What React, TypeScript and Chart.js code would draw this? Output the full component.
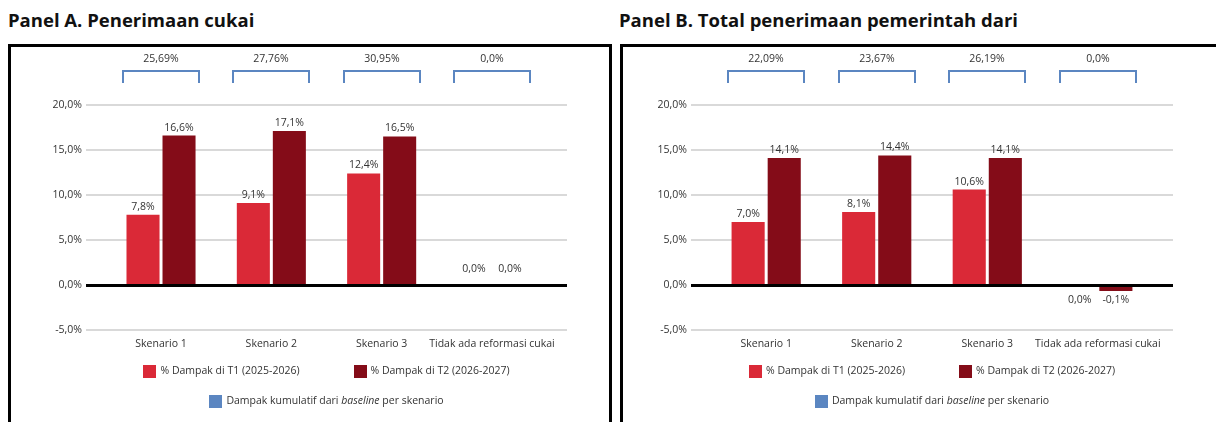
import React, { useEffect, useRef } from 'react';
import { Chart, registerables } from 'chart.js';

Chart.register(...registerables);

// ---------- data ----------
const categories = ['Skenario 1', 'Skenario 2', 'Skenario 3', 'Tidak ada reformasi cukai'];
const yTickValues = [-5, 0, 5, 10, 15, 20];
const seriesNames = ['% Dampak di T1 (2025-2026)', '% Dampak di T2 (2026-2027)'];
const cumulativeLegendParts: [string, boolean][] = [
  ['Dampak kumulatif dari ', false],
  ['baseline', true],
  [' per skenario', false],
];

const panelATitle = 'Panel A. Penerimaan cukai';
const panelAT1 = [7.8, 9.1, 12.4, 0.0];
const panelAT2 = [16.6, 17.1, 16.5, 0.0];
const panelACumulative = [25.69, 27.76, 30.95, 0.0];

const panelBTitle = 'Panel B. Total penerimaan pemerintah dari';
const panelBT1 = [7.0, 8.1, 10.6, 0.0];
const panelBT2 = [14.1, 14.4, 14.1, -0.1];
const panelBCumulative = [22.09, 23.67, 26.19, 0.0];

// ---------- styles ----------
const FONT = "'Open Sans', 'DejaVu Sans', sans-serif";
const COLOR_T1 = '#da2937';
const COLOR_T2 = '#840c18';
const COLOR_CUM = '#5b86c1';
const TEXT = '#333333';
const FS = 10.5;

const fmt1 = (v: number) => v.toFixed(1).replace('.', ',') + '%';
const fmtCum = (v: number) => (v === 0 ? v.toFixed(1) : v.toFixed(2)).replace('.', ',') + '%';

type PanelProps = {
  left: number;
  top: number;
  width: number;
  height: number;
  yAxisWidth: number;
  rightPad: number;
  t1: number[];
  t2: number[];
  cum: number[];
  t2MinBar: number;
};

function PanelChart(p: PanelProps) {
  const ref = useRef<HTMLCanvasElement | null>(null);

  useEffect(() => {
    if (!ref.current) return;
    const overlay = {
      id: 'overlay',
      afterDatasetsDraw(chart: any) {
        const { ctx, chartArea, scales } = chart;
        const x = scales.x;
        const y = scales.y;
        const y0 = y.getPixelForValue(0);
        ctx.save();
        // zero line on top of bars
        ctx.strokeStyle = '#000';
        ctx.lineWidth = 3;
        ctx.beginPath();
        ctx.moveTo(chartArea.left, Math.round(y0) + 0.5);
        ctx.lineTo(chartArea.right, Math.round(y0) + 0.5);
        ctx.stroke();

        // value labels
        ctx.font = `${FS}px ${FONT}`;
        ctx.fillStyle = TEXT;
        ctx.textAlign = 'center';
        ctx.textBaseline = 'middle';
        const series = [p.t1, p.t2];
        chart.data.datasets.forEach((ds: any, di: number) => {
          const meta = chart.getDatasetMeta(di);
          meta.data.forEach((bar: any, i: number) => {
            const v = series[di][i];
            const below = p.t1[i] < 0 || p.t2[i] < 0;
            let ty: number;
            if (below) ty = v === 0 ? y0 + 15 : bar.y + 9;
            else ty = v === 0 ? y0 - 16 : bar.y - 8;
            ctx.fillText(fmt1(v), bar.x, ty);
          });
        });

        // cumulative brackets
        const half = 38;
        p.cum.forEach((c, i) => {
          const cx = Math.round(x.getPixelForValue(i));
          ctx.strokeStyle = COLOR_CUM;
          ctx.lineWidth = 2;
          ctx.beginPath();
          ctx.moveTo(cx - half, 36);
          ctx.lineTo(cx - half, 24);
          ctx.lineTo(cx + half, 24);
          ctx.lineTo(cx + half, 36);
          ctx.stroke();
          ctx.fillStyle = TEXT;
          ctx.fillText(fmtCum(c), cx, 12);
        });

        // legend
        const cxArea = (chartArea.left + chartArea.right) / 2;
        const box = 13;
        const boxGap = 4;
        const row1Y = chartArea.bottom + 41;
        const row2Y = chartArea.bottom + 71;
        ctx.font = `${FS}px ${FONT}`;
        ctx.textAlign = 'left';
        const w0 = box + boxGap + ctx.measureText(seriesNames[0]).width;
        const w1 = box + boxGap + ctx.measureText(seriesNames[1]).width;
        const itemGap = 54;
        let lx = cxArea - (w0 + itemGap + w1) / 2;
        const cols = [COLOR_T1, COLOR_T2];
        [w0, w1].forEach((w, k) => {
          ctx.fillStyle = cols[k];
          ctx.fillRect(Math.round(lx), Math.round(row1Y - box / 2), box, box);
          ctx.fillStyle = TEXT;
          ctx.fillText(seriesNames[k], lx + box + boxGap, row1Y);
          lx += w + itemGap;
        });
        let total = box + boxGap;
        cumulativeLegendParts.forEach(([t, it]) => {
          ctx.font = `${it ? 'italic ' : ''}${FS}px ${FONT}`;
          total += ctx.measureText(t).width;
        });
        let rx = cxArea - total / 2;
        ctx.fillStyle = COLOR_CUM;
        ctx.fillRect(Math.round(rx), Math.round(row2Y - box / 2), box, box);
        rx += box + boxGap;
        ctx.fillStyle = TEXT;
        cumulativeLegendParts.forEach(([t, it]) => {
          ctx.font = `${it ? 'italic ' : ''}${FS}px ${FONT}`;
          ctx.fillText(t, rx, row2Y);
          rx += ctx.measureText(t).width;
        });
        ctx.restore();
      },
    };

    const chart = new Chart(ref.current, {
      type: 'bar',
      data: {
        datasets: [
          {
            label: seriesNames[0],
            data: p.t1.map((v, i) => ({ x: i, y: v })),
            backgroundColor: COLOR_T1,
            categoryPercentage: 0.653,
            barPercentage: 0.917,
          },
          {
            label: seriesNames[1],
            data: p.t2.map((v, i) => ({ x: i, y: v })),
            backgroundColor: COLOR_T2,
            categoryPercentage: 0.653,
            barPercentage: 0.917,
            minBarLength: p.t2MinBar,
          },
        ],
      } as any,
      options: {
        responsive: false,
        animation: false,
        events: [],
        layout: {
          padding: { top: 58, right: p.rightPad, bottom: p.height - 283 - 30, left: 0 },
        },
        plugins: {
          legend: { display: false },
          tooltip: { enabled: false },
        },
        scales: {
          x: {
            type: 'linear',
            offset: false,
            min: -0.68,
            max: 3.68,
            afterBuildTicks: (s: any) => {
              s.ticks = categories.map((_, i) => ({ value: i }));
            },
            afterFit: (s: any) => {
              s.height = 30;
            },
            ticks: {
              callback: (v: any) => categories[v] ?? '',
              autoSkip: false,
              maxRotation: 0,
              minRotation: 0,
              padding: 8,
              color: TEXT,
              font: { size: FS, family: FONT },
            },
            grid: { display: false, drawTicks: false, offset: false },
            border: { display: false },
          },
          y: {
            min: -5,
            max: 20,
            afterBuildTicks: (s: any) => {
              s.ticks = yTickValues.map((v) => ({ value: v }));
            },
            afterFit: (s: any) => {
              s.width = p.yAxisWidth;
            },
            ticks: {
              callback: (v: any) => fmt1(Number(v)),
              padding: 4,
              color: TEXT,
              font: { size: FS, family: FONT },
            },
            grid: {
              color: (c: any) => (c.tick && c.tick.value === 0 ? '#000' : '#d9d9d9'),
              lineWidth: 2,
              drawTicks: false,
            },
            border: { display: false },
          },
        },
      } as any,
      plugins: [overlay],
    });
    return () => chart.destroy();
  }, []);

  return (
    <canvas
      ref={ref}
      width={p.width}
      height={p.height}
      style={{ position: 'absolute', left: p.left, top: p.top, width: p.width, height: p.height }}
    />
  );
}

const titleStyle = (left: number): React.CSSProperties => ({
  position: 'absolute',
  left,
  top: 11,
  font: `bold 18.5px ${FONT}`,
  lineHeight: '18px',
  whiteSpace: 'nowrap',
  color: '#111',
});

const boxStyle = (left: number, width: number): React.CSSProperties => ({
  position: 'absolute',
  left,
  top: 44,
  width,
  height: 420,
  border: '3px solid #000',
  boxSizing: 'border-box',
});

export default function App() {
  return (
    <div
      style={{
        position: 'fixed',
        left: 0,
        top: 0,
        width: 1216,
        height: 422,
        overflow: 'hidden',
        background: '#fff',
      }}
    >
      <div style={titleStyle(8)}>{panelATitle}</div>
      <div style={titleStyle(619)}>{panelBTitle}</div>
      <div style={boxStyle(8, 604)} />
      <div style={boxStyle(620, 620)} />
      <PanelChart
        left={11}
        top={47}
        width={598}
        height={375}
        yAxisWidth={75}
        rightPad={42}
        t1={panelAT1}
        t2={panelAT2}
        cum={panelACumulative}
        t2MinBar={0}
      />
      <PanelChart
        left={623}
        top={47}
        width={593}
        height={375}
        yAxisWidth={68}
        rightPad={43}
        t1={panelBT1}
        t2={panelBT2}
        cum={panelBCumulative}
        t2MinBar={6}
      />
    </div>
  );
}
